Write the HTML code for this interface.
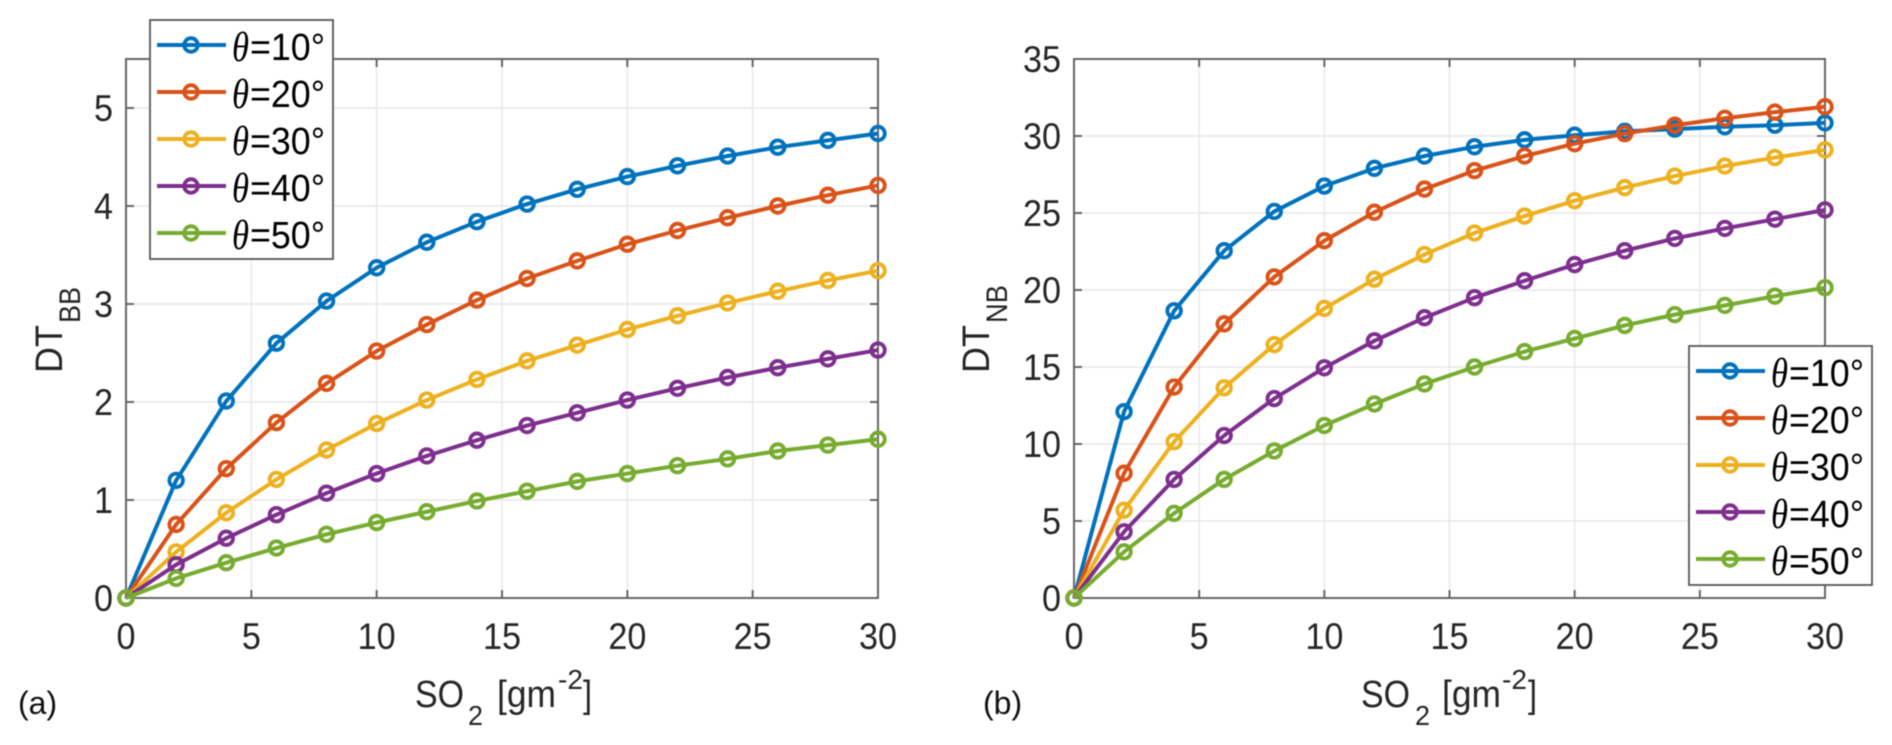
<!DOCTYPE html>
<html>
<head>
<meta charset="utf-8">
<title>DT vs SO2</title>
<style>
html,body{margin:0;padding:0;background:#fff;width:1892px;height:745px;overflow:hidden}
svg{display:block;font-family:"Liberation Sans",sans-serif;filter:blur(0.5px)}
.tick{font-size:37px;fill:#262626}
.lab{font-size:38px;fill:#262626}
.sub{font-size:28px;fill:#262626}
.panel{font-size:32px;fill:#111}
.leg{font-size:38px;fill:#000}
.th{font-family:"Liberation Serif",serif;font-style:italic;font-size:42px;fill:#000}
</style>
</head>
<body>
<svg id="fig" width="1892" height="745" viewBox="0 0 1892 745" xmlns="http://www.w3.org/2000/svg">
  <g>
    <text class="lab" x="415" y="707" textLength="49" lengthAdjust="spacingAndGlyphs">SO</text>
    <text class="sub" x="468" y="725" textLength="15" lengthAdjust="spacingAndGlyphs">2</text>
    <text class="lab" x="497" y="707" textLength="59" lengthAdjust="spacingAndGlyphs">[gm</text>
    <text class="sub" x="558" y="689" textLength="25" lengthAdjust="spacingAndGlyphs">-2</text>
    <text class="lab" x="583" y="707" textLength="9" lengthAdjust="spacingAndGlyphs">]</text>
  </g>
  <g>
    <text class="lab" x="1361" y="707" textLength="49" lengthAdjust="spacingAndGlyphs">SO</text>
    <text class="sub" x="1415" y="725" textLength="15" lengthAdjust="spacingAndGlyphs">2</text>
    <text class="lab" x="1442" y="707" textLength="59" lengthAdjust="spacingAndGlyphs">[gm</text>
    <text class="sub" x="1502" y="689" textLength="25" lengthAdjust="spacingAndGlyphs">-2</text>
    <text class="lab" x="1528" y="707" textLength="9" lengthAdjust="spacingAndGlyphs">]</text>
  </g>
  <g>
    <text class="lab" transform="translate(62 373) rotate(-90)" textLength="48" lengthAdjust="spacingAndGlyphs">DT</text>
    <text class="sub" transform="translate(80 323) rotate(-90)" style="font-size:30px" textLength="36" lengthAdjust="spacingAndGlyphs">BB</text>
  </g>
  <g>
    <text class="lab" transform="translate(989 373) rotate(-90)" textLength="48" lengthAdjust="spacingAndGlyphs">DT</text>
    <text class="sub" transform="translate(1007 323) rotate(-90)" style="font-size:30px" textLength="38" lengthAdjust="spacingAndGlyphs">NB</text>
  </g>
  <text class="panel" x="18" y="714">(a)</text>
  <text class="panel" x="983" y="714">(b)</text>
</svg>
<script>
var soValues = [0,2,4,6,8,10,12,14,16,18,20,22,24,26,28,30];
var xTicks = [0,5,10,15,20,25,30];
var yTicksA = [0,1,2,3,4,5];
var yTicksB = [0,5,10,15,20,25,30,35];
var thetaLabels = ['10','20','30','40','50'];
var colors = ['#0072BD','#D95319','#EDB120','#7E2F8E','#77AC30'];

var bb10 = [0,1.2,2.01,2.6,3.03,3.37,3.63,3.84,4.02,4.17,4.3,4.41,4.51,4.6,4.67,4.74];
var bb20 = [0,0.75,1.32,1.79,2.19,2.52,2.79,3.04,3.26,3.44,3.61,3.75,3.88,4.0,4.11,4.21];
var bb30 = [0,0.47,0.87,1.21,1.51,1.78,2.02,2.23,2.42,2.58,2.74,2.88,3.01,3.13,3.24,3.34];
var bb40 = [0,0.34,0.61,0.85,1.07,1.27,1.45,1.61,1.76,1.89,2.02,2.14,2.25,2.35,2.44,2.53];
var bb50 = [0,0.2,0.36,0.51,0.65,0.77,0.88,0.99,1.09,1.19,1.27,1.35,1.42,1.5,1.56,1.62];

var nb10 = [0,12.1,18.65,22.55,25.1,26.75,27.9,28.7,29.3,29.75,30.05,30.3,30.45,30.6,30.7,30.85];
var nb20 = [0,8.1,13.7,17.8,20.85,23.2,25.05,26.55,27.75,28.7,29.5,30.15,30.7,31.15,31.55,31.9];
var nb30 = [0,5.7,10.15,13.65,16.45,18.8,20.7,22.3,23.7,24.8,25.8,26.65,27.4,28.05,28.6,29.1];
var nb40 = [0,4.3,7.7,10.55,12.95,14.95,16.7,18.2,19.5,20.6,21.65,22.55,23.35,24,24.6,25.2];
var nb50 = [0,3,5.5,7.7,9.55,11.2,12.6,13.9,15,16,16.85,17.7,18.4,19,19.6,20.15];

var NS = 'http://www.w3.org/2000/svg';
var fig = document.getElementById('fig');

function mk(tag, attrs, parent) {
  var e = document.createElementNS(NS, tag);
  for (var k in attrs) e.setAttribute(k, attrs[k]);
  parent.appendChild(e);
  return e;
}

function drawPanel(id, box, yMax, yTicks, seriesList) {
  var g = mk('g', {}, fig);
  
  
  function sx(v) { return box.x0 + (box.x1 - box.x0) * v / 30; }
  function sy(v) { return box.y0 - (box.y0 - box.y1) * v / yMax; }

  xTicks.forEach(function (t) {
    var gl = mk('line', {x1: sx(t), x2: sx(t), y1: box.y1, y2: box.y0, stroke: '#e8e8e8', 'stroke-width': 1.5}, g);
    
    
    var lb = mk('text', {x: sx(t), y: 649, 'text-anchor': 'middle', 'class': 'tick', textLength: String(t).length * 19, lengthAdjust: 'spacingAndGlyphs'}, g);
    lb.textContent = t;
    
    
  });
  yTicks.forEach(function (t) {
    var gl = mk('line', {x1: box.x0, x2: box.x1, y1: sy(t), y2: sy(t), stroke: '#e8e8e8', 'stroke-width': 1.5}, g);
    
    
    var lb = mk('text', {x: box.x0 - 13, y: sy(t) + 13, 'text-anchor': 'end', 'class': 'tick', textLength: String(t).length * 19, lengthAdjust: 'spacingAndGlyphs'}, g);
    lb.textContent = t;
    
    
  });

  var frame = mk('rect', {x: box.x0, y: box.y1, width: box.x1 - box.x0, height: box.y0 - box.y1, fill: 'none', stroke: '#666', 'stroke-width': 2}, g);
  
  

  var d = '';
  xTicks.forEach(function (t) {
    d += 'M' + sx(t) + ' ' + box.y0 + 'v-8M' + sx(t) + ' ' + box.y1 + 'v8';
  });
  yTicks.forEach(function (t) {
    d += 'M' + box.x0 + ' ' + sy(t) + 'h8M' + box.x1 + ' ' + sy(t) + 'h-8';
  });
  var ticks = mk('path', {d: d, stroke: '#666', 'stroke-width': 2, fill: 'none'}, g);
  
  

  seriesList.forEach(function (vals, i) {
    var sg = mk('g', {}, g);
    
    
    var pts = vals.map(function (v, j) { return sx(soValues[j]) + ',' + sy(v); }).join(' ');
    var pl = mk('polyline', {points: pts, fill: 'none', stroke: colors[i], 'stroke-width': 4, 'stroke-linejoin': 'round'}, sg);
    
    
    vals.forEach(function (v, j) {
      var c = mk('circle', {cx: sx(soValues[j]), cy: sy(v), r: 6.8, fill: 'none', stroke: colors[i], 'stroke-width': 3.8}, sg);
      
      
    });
  });
}

function drawLegend(id, lx, ly, lw, lh, rowY) {
  var g = mk('g', {}, fig);
  
  
  var bg = mk('rect', {x: lx, y: ly, width: lw, height: lh, fill: '#fff', stroke: '#555', 'stroke-width': 1.8}, g);
  
  
  thetaLabels.forEach(function (t, i) {
    var y = ly + rowY + i * 47;
    var eg = mk('g', {}, g);
    
    
    var ln = mk('line', {x1: lx + 7, x2: lx + 76, y1: y, y2: y, stroke: colors[i], 'stroke-width': 4}, eg);
    
    
    var mc = mk('circle', {cx: lx + 41, cy: y, r: 6.8, fill: 'none', stroke: colors[i], 'stroke-width': 3.8}, eg);
    
    
    var th = mk('text', {x: lx + 82, y: y + 16, 'class': 'th', textLength: 17, lengthAdjust: 'spacingAndGlyphs'}, eg);
    th.textContent = '\u03B8';
    
    
    var lb = mk('text', {x: lx + 100, y: y + 15, 'class': 'leg', textLength: 75, lengthAdjust: 'spacingAndGlyphs'}, eg);
    lb.textContent = '=' + t + '\u00B0';
    
    
  });
}

drawPanel('a', {x0: 126, x1: 878, y0: 598, y1: 59}, 5.5, yTicksA, [bb10, bb20, bb30, bb40, bb50]);
drawPanel('b', {x0: 1074, x1: 1825, y0: 598, y1: 59}, 35, yTicksB, [nb10, nb20, nb30, nb40, nb50]);
drawLegend('a', 150, 20, 183, 239, 25);
drawLegend('b', 1689, 346, 183, 239, 25);
</script>
</body>
</html>
